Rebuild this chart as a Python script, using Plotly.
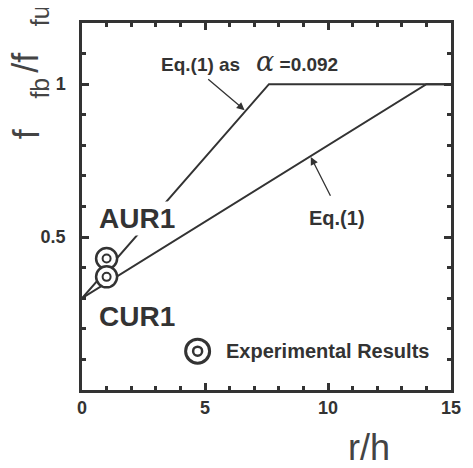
import plotly.graph_objects as go

# ---- data ----
rh_eq1 = [0, 14, 15]
ratio_eq1 = [0.3, 1.0, 1.0]
rh_alpha = [0, 7.6, 15]
ratio_alpha = [0.3, 1.0, 1.0]
specimens = ["AUR1", "CUR1"]
spec_rh = [1.0, 1.0]
spec_ratio = [0.43, 0.37]
x_tickvals = [0, 5, 10, 15]
x_ticktext = ["0", "5", "10", "15"]
y_tickvals = [0.5, 1.0]
y_ticktext = ["0.5", "1"]

INK = "#333333"
FONT = "Arial, Liberation Sans, sans-serif"

# page body has an 8px margin: shrink the figure so the plot lands where intended
W, H = 465, 460
L, R, T, B = 74, 21, 12, 78   # plot area in window px: x 82..452, y 20..390


def paper(wx, wy):
    """window pixel -> paper coords"""
    return (wx - 82) / 370.0, (390 - wy) / 370.0


x_minor_vals = list(range(0, 16))
y_minor_vals = [i / 10 for i in range(0, 13)]

fig = go.Figure()
# invisible carrier for the mirrored (top/right) tick axes
fig.add_trace(go.Scatter(x=rh_eq1, y=ratio_eq1, xaxis="x2", yaxis="y2", mode="lines",
                         opacity=0, hoverinfo="skip", showlegend=False))
fig.add_trace(go.Scatter(x=rh_alpha, y=ratio_alpha, mode="lines",
                         line=dict(color=INK, width=2), showlegend=False))
fig.add_trace(go.Scatter(x=rh_eq1, y=ratio_eq1, mode="lines",
                         line=dict(color=INK, width=2), showlegend=False))
fig.add_trace(go.Scatter(x=spec_rh, y=spec_ratio, mode="markers", text=specimens,
                         marker=dict(symbol="circle", size=21, color="white",
                                     line=dict(color=INK, width=2.5)),
                         showlegend=False))
fig.add_trace(go.Scatter(x=spec_rh, y=spec_ratio, mode="markers", text=specimens,
                         marker=dict(symbol="circle-open", size=8, color=INK,
                                     line=dict(color=INK, width=2)),
                         showlegend=False))

bold = dict(family=FONT, color=INK, weight="bold")
ann = []
ann.append(dict(x=6.79, y=1.074, xref="x", yref="y", showarrow=False,
                text="Eq.(1) as &nbsp;&nbsp;<i><span style='font-family:DejaVu Serif;font-size:27px;font-weight:normal'>α</span></i> =0.092",
                font=dict(size=19, **bold)))
ann.append(dict(x=6.61, y=0.915, ax=5.07, ay=1.02, xref="x", yref="y", axref="x", ayref="y",
                showarrow=True, arrowhead=2, arrowsize=1.2, arrowwidth=1.3, arrowcolor=INK, text=""))
ann.append(dict(x=10.36, y=0.562, xref="x", yref="y", showarrow=False,
                text="Eq.(1)", font=dict(size=20, **bold)))
ann.append(dict(x=9.3, y=0.762, ax=10.13, ay=0.63, xref="x", yref="y", axref="x", ayref="y",
                showarrow=True, arrowhead=2, arrowsize=1.2, arrowwidth=1.3, arrowcolor=INK, text=""))
ann.append(dict(x=2.25, y=0.562, xref="x", yref="y", showarrow=False, bgcolor="white",
                text=specimens[0], font=dict(size=28, **bold)))
ann.append(dict(x=2.25, y=0.241, xref="x", yref="y", showarrow=False,
                text=specimens[1], font=dict(size=28, **bold)))
ann.append(dict(x=5.76, y=0.127, xref="x", yref="y", showarrow=False, xanchor="left",
                text="Experimental Results", font=dict(size=20, **bold)))

# axis titles
tx, ty = paper(370, 448)
ann.append(dict(x=tx, y=ty, xref="paper", yref="paper", showarrow=False,
                xanchor="center", yanchor="middle",
                text="r/h", font=dict(family=FONT, size=36, color="#444444")))
ytitle_parts = [("f", 36, 26, 132), ("fb", 25, 40, 86), ("/f", 36, 26, 60), ("fu", 25, 40, 13)]
for txt, sz, wx, wy in ytitle_parts:
    px, py = paper(wx, wy)
    ann.append(dict(x=px, y=py, xref="paper", yref="paper", showarrow=False, textangle=-90,
                    xanchor="center", yanchor="middle",
                    text=txt, font=dict(family=FONT, size=sz, color="#444444")))

shapes = [
    dict(type="circle", xref="x", yref="y", xsizemode="pixel", ysizemode="pixel",
         xanchor=4.70, yanchor=0.127, x0=-12, x1=12, y0=-12, y1=12,
         line=dict(color=INK, width=3), fillcolor="white"),
    dict(type="circle", xref="x", yref="y", xsizemode="pixel", ysizemode="pixel",
         xanchor=4.70, yanchor=0.127, x0=-4.5, x1=4.5, y0=-4.5, y1=4.5,
         line=dict(color=INK, width=2.5)),
]

tickstyle = dict(ticks="inside", ticklen=7, tickwidth=2.5, tickcolor=INK,
                 showgrid=False, zeroline=False, tickmode="array")
axis_common = dict(showline=True, linecolor=INK, linewidth=2.5, mirror=True,
                   tickfont=dict(family=FONT, size=18, color=INK, weight="bold"), **tickstyle)
xminor = dict(tickmode="array", tickvals=x_minor_vals, ticks="inside", ticklen=4,
              tickwidth=2.5, tickcolor=INK, showgrid=False)
yminor = dict(tickmode="array", tickvals=y_minor_vals, ticks="inside", ticklen=4,
              tickwidth=2.5, tickcolor=INK, showgrid=False)

fig.update_layout(
    width=W, height=H,
    margin=dict(l=L, r=R, t=T, b=B),
    paper_bgcolor="white", plot_bgcolor="white",
    xaxis=dict(range=[0, 15], tickvals=x_tickvals, ticktext=x_ticktext, minor=xminor,
               **axis_common),
    yaxis=dict(range=[0, 1.2], tickvals=y_tickvals, ticktext=y_ticktext, minor=yminor,
               ticklabelstandoff=10, **axis_common),
    xaxis2=dict(overlaying="x", side="top", range=[0, 15], tickvals=x_tickvals,
                showticklabels=False, minor=xminor, showline=False, **tickstyle),
    yaxis2=dict(overlaying="y", side="right", range=[0, 1.2], tickvals=y_tickvals,
                showticklabels=False, minor=yminor, showline=False, **tickstyle),
    annotations=ann, shapes=shapes, showlegend=False,
)

fig.write_html("out.html")
